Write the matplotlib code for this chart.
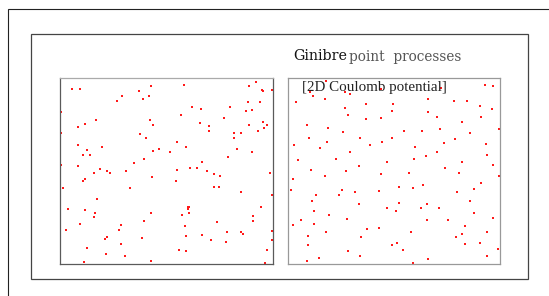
import matplotlib
matplotlib.use('Agg')
import matplotlib.pyplot as plt
from matplotlib.patches import Rectangle

# points (unit square, origin bottom-left)
poisson_x = [0.211,0.054,0.091,0.372,0.428,0.582,0.890,0.923,0.949,0.956,
             0.995,0.265,0.290,0.389,0.417,0.618,0.661,0.799,0.883,0.903,
             0.939,0.873,0.005,0.567,0.771,0.168,0.422,0.437,0.117,0.082,
             0.657,0.700,0.700,0.886,0.952,0.974,0.960,0.932,0.005,0.374,
             0.404,0.817,0.850,0.817,0.086,0.196,0.124,0.549,0.591,0.466,
             0.435,0.516,0.830,0.903,0.109,0.138,0.789,0.392,0.348,0.669,
             0.003,0.082,0.189,0.158,0.219,0.236,0.311,0.550,0.611,0.644,
             0.689,0.723,0.750,0.433,0.988,0.119,0.105,0.544,0.015,0.328,
             0.723,0.748,0.850,0.995,0.173,0.038,0.117,0.600,0.606,0.603,
             0.163,0.158,0.428,0.606,0.575,0.944,0.908,0.906,0.392,0.091,
             0.285,0.738,0.588,0.028,0.278,0.995,0.786,0.850,0.862,0.211,
             0.221,0.386,0.591,0.669,0.708,0.778,0.995,0.288,0.124,0.558,
             0.590,0.972,0.216,0.306,0.427,0.112,0.962]
poisson_y = [0.996,0.939,0.939,0.927,0.953,0.961,0.955,0.977,0.934,0.928,
             0.934,0.873,0.901,0.885,0.901,0.842,0.832,0.839,0.866,0.824,
             0.867,0.821,0.812,0.797,0.781,0.769,0.774,0.747,0.749,0.735,
             0.754,0.740,0.713,0.744,0.762,0.746,0.731,0.715,0.703,0.694,
             0.677,0.704,0.704,0.674,0.636,0.627,0.609,0.652,0.624,0.615,
             0.606,0.599,0.613,0.600,0.582,0.584,0.575,0.561,0.541,0.547,
             0.527,0.523,0.509,0.487,0.500,0.487,0.495,0.504,0.516,0.516,
             0.495,0.480,0.468,0.466,0.484,0.453,0.444,0.443,0.405,0.405,
             0.409,0.409,0.387,0.369,0.346,0.294,0.287,0.305,0.305,0.292,
             0.272,0.251,0.271,0.274,0.260,0.306,0.256,0.229,0.229,0.211,
             0.208,0.222,0.203,0.181,0.179,0.176,0.170,0.170,0.161,0.133,
             0.140,0.138,0.147,0.152,0.127,0.118,0.124,0.104,0.082,0.073,
             0.068,0.075,0.050,0.039,0.016,0.009,0.005]

ginibre_x = [0.183,0.105,0.120,0.041,0.175,0.270,0.293,0.372,0.270,0.287,
             0.372,0.441,0.093,0.191,0.262,0.101,0.188,0.340,0.390,0.444,
             0.031,0.152,0.296,0.048,0.230,0.337,0.469,0.109,0.274,0.540,
             0.741,0.823,0.931,0.969,0.496,0.493,0.662,0.784,0.848,0.909,
             0.963,0.664,0.705,0.911,0.821,0.548,0.633,0.718,0.859,0.999,
             0.491,0.790,0.738,0.934,0.705,0.654,0.939,0.595,0.824,0.970,
             0.741,0.442,0.025,0.178,0.015,0.258,0.317,0.136,0.241,0.430,
             0.116,0.339,0.469,0.124,0.197,0.282,0.062,0.025,0.124,0.373,
             0.430,0.182,0.098,0.347,0.095,0.491,0.285,0.340,0.150,0.091,
             0.573,0.807,0.998,0.527,0.593,0.639,0.881,0.912,0.798,0.860,
             0.527,0.656,0.513,0.631,0.713,0.878,0.967,0.656,0.757,0.838,
             0.584,0.823,0.942,0.794,0.516,0.835,0.908,0.546,0.992,0.939,
             0.662,0.590,0.600,0.439,0.725]
ginibre_y = [0.981,0.923,0.901,0.869,0.887,0.923,0.912,0.858,0.838,0.797,
             0.776,0.781,0.744,0.731,0.707,0.677,0.654,0.675,0.639,0.654,
             0.639,0.623,0.600,0.557,0.560,0.523,0.544,0.503,0.496,0.998,
             0.998,0.998,0.959,0.955,0.860,0.819,0.887,0.873,0.873,0.848,
             0.831,0.814,0.788,0.790,0.761,0.713,0.713,0.725,0.702,0.722,
             0.677,0.668,0.647,0.643,0.598,0.576,0.585,0.562,0.547,0.528,
             0.511,0.483,0.454,0.470,0.395,0.395,0.384,0.366,0.370,0.390,
             0.336,0.318,0.298,0.280,0.259,0.239,0.235,0.205,0.210,0.186,
             0.192,0.167,0.147,0.140,0.099,0.097,0.068,0.043,0.027,0.011,
             0.488,0.488,0.470,0.409,0.407,0.422,0.400,0.431,0.384,0.336,
             0.323,0.319,0.283,0.296,0.300,0.269,0.246,0.232,0.235,0.201,
             0.167,0.158,0.167,0.140,0.109,0.104,0.109,0.072,0.079,0.041,
             0.023,0.002,0.627,0.936,0.946]

W, H = 549, 296
fig = plt.figure(figsize=(W/100, H/100), dpi=100)

# outer frame (runs off the right/bottom edge) and inner box
fig.patches.append(Rectangle((7.5/W, -0.2), 1.2, (H-9.3)/H + 0.2, transform=fig.transFigure,
                             fill=False, ec='#222222', lw=0.8))
fig.patches.append(Rectangle((30.8/W, 1-279.3/H), (528-30.8)/W, (279.3-33.5)/H,
                             transform=fig.transFigure, fill=False, ec='#444444', lw=0.9))

def panel(rect, xs, ys, edge, top_edge):
    ax = fig.add_axes(rect)
    ax.scatter(xs, ys, s=3.5, marker='s', color='#ff1a1a', linewidths=0)
    ax.set_xlim(0, 1)
    ax.set_ylim(0, 1)
    ax.set_xticks([])
    ax.set_yticks([])
    for side, sp in ax.spines.items():
        sp.set_color(top_edge if side == 'top' else edge)
        sp.set_linewidth(0.9)
    return ax

panel([60.2/W, 1-263.5/H, 212.6/W, 186/H], poisson_x, poisson_y, '#5a5a5a', '#aaaaaa')
panel([287.5/W, 1-263.5/H, 212.1/W, 186/H], ginibre_x, ginibre_y, '#999999', '#999999')

fig.text(293/W, 1-60.5/H, 'Ginibre', family='DejaVu Serif', fontsize=10.3, color='#111111')
fig.text(349/W, 1-60.5/H, 'point  processes', family='DejaVu Serif', fontsize=9.8, color='#555555')
fig.text(302/W, 1-91/H, '[2D Coulomb potential]', family='Liberation Serif', fontsize=10.8,
         color='#222222')

plt.savefig('out.png', dpi=100)
